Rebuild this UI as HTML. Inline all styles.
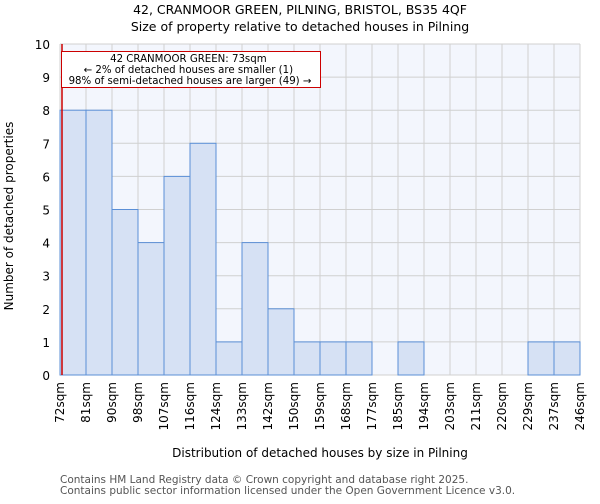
<!DOCTYPE html>
<html><head><meta charset="utf-8"><style>
body{margin:0;background:#fff;font-family:"DejaVu Sans","Liberation Sans",sans-serif;}
svg text{font-family:"DejaVu Sans","Liberation Sans",sans-serif;}
</style></head><body>
<svg id="chart" width="600" height="500" xmlns="http://www.w3.org/2000/svg">
<text x="300" y="14" text-anchor="middle" font-size="12.5">42, CRANMOOR GREEN, PILNING, BRISTOL, BS35 4QF</text>
<text x="300" y="31" text-anchor="middle" font-size="12.5">Size of property relative to detached houses in Pilning</text>
<rect x="60" y="44" width="520" height="331" fill="#f3f6fd"/>
<g id="grid"></g>
<g id="bars"></g>
<g id="axes"></g>
<line x1="62" y1="44" x2="62" y2="375" stroke="#cc0000" stroke-width="1.5"/>
<rect x="61.5" y="51.5" width="259" height="36" fill="#fff" stroke="#cc0000" stroke-width="1"/>
<text font-size="10.2" text-anchor="middle">
<tspan x="190" y="62">42 CRANMOOR GREEN: 73sqm</tspan>
<tspan x="190" y="73">← 2% of detached houses are smaller (1)</tspan>
<tspan x="190" y="84">98% of semi-detached houses are larger (49) →</tspan>
</text>
<text transform="translate(13,216) rotate(-90)" text-anchor="middle" font-size="12">Number of detached properties</text>
<text x="320" y="457" text-anchor="middle" font-size="12">Distribution of detached houses by size in Pilning</text>
<text font-size="10.5" fill="#555"><tspan x="60" y="483">Contains HM Land Registry data © Crown copyright and database right 2025.</tspan><tspan x="60" y="494">Contains public sector information licensed under the Open Government Licence v3.0.</tspan></text>
</svg>
<script>
const tickLabels=["72sqm","81sqm","90sqm","98sqm","107sqm","116sqm","124sqm","133sqm","142sqm","150sqm","159sqm","168sqm","177sqm","185sqm","194sqm","203sqm","211sqm","220sqm","229sqm","237sqm","246sqm"];
const counts=[8,8,5,4,6,7,1,4,2,1,1,1,0,1,0,0,0,0,1,1];
const yTicks=[0,1,2,3,4,5,6,7,8,9,10];
const NS="http://www.w3.org/2000/svg";
const X0=60,X1=580,Y0=375,Y1=44,YMAX=10;
const bw=(X1-X0)/counts.length;
function xs(i){return X0+i*bw;}
function ys(v){return Y0-(Y0-Y1)*v/YMAX;}
function mk(tag,attrs,parent){const e=document.createElementNS(NS,tag);for(const k in attrs)e.setAttribute(k,attrs[k]);parent.appendChild(e);return e;}
const grid=document.getElementById('grid'),bars=document.getElementById('bars'),axes=document.getElementById('axes');
yTicks.forEach(t=>{
 const l=mk('line',{x1:X0,x2:X1,y1:ys(t),y2:ys(t),stroke:'#d0d0d0','stroke-width':1},grid);
 
 
 const tx=mk('text',{x:X0-10,y:ys(t)+5,'text-anchor':'end','font-size':12},axes);
 tx.textContent=t;
 
 
});
tickLabels.forEach((lab,i)=>{
 const x=xs(i);
 const l=mk('line',{x1:x,x2:x,y1:Y1,y2:Y0,stroke:'#d0d0d0','stroke-width':1},grid);
 
 
 const tx=mk('text',{transform:`translate(${x+4},382) rotate(-90)`,'text-anchor':'end','font-size':12},axes);
 tx.textContent=lab;
 
 
});
counts.forEach((v,i)=>{
 if(v<=0)return;
 const r=mk('rect',{x:xs(i),y:ys(v),width:bw,height:Y0-ys(v),fill:'#d6e1f4',stroke:'#5b8fd6','stroke-width':1},bars);
 
 
});
</script>
</body></html>
